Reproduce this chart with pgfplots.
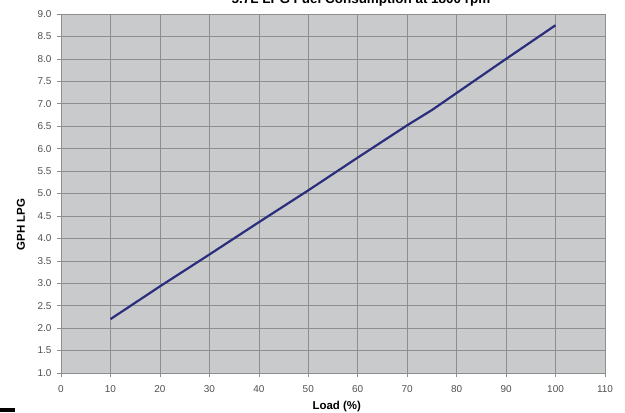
\documentclass[border=0pt]{standalone}
\usepackage{pgfplots}
\pgfplotsset{compat=1.18}
\usepackage{fontspec}
\setmainfont{Liberation Sans}
\definecolor{plotbg}{HTML}{C9CACC}
\definecolor{gridc}{HTML}{8E8E8E}
\definecolor{navy}{HTML}{2B2E7C}
\definecolor{ticklab}{HTML}{505050}
\begin{document}
\begin{tikzpicture}
\useasboundingbox (0bp,0bp) rectangle (625bp,413bp);
\begin{axis}[
  at={(61bp,40bp)}, anchor=south west,
  scale only axis, width=544bp, height=359bp,
  xmin=0, xmax=110, ymin=1, ymax=9,
  xtick={0,10,...,110},
  ytick={1,1.5,...,9},
  yticklabel style={/pgf/number format/fixed, /pgf/number format/fixed zerofill, /pgf/number format/precision=1},
  /pgf/number format/assume math mode=true,
  ticklabel style={font=\fontsize{10}{12}\selectfont, text=ticklab},
  xticklabel style={yshift=-5bp},
  yticklabel style={xshift=-2bp},
  tick align=outside, major tick length=4bp,
  tick style={gridc, line width=0.6bp},
  grid=major,
  major grid style={gridc, line width=0.6bp},
  axis background/.style={fill=plotbg},
  axis line style={draw=gridc, line width=0.7bp},
  xtick pos=bottom, ytick pos=left,
  xlabel={\bfseries Load (\%)},
  ylabel={\bfseries GPH LPG},
  label style={font=\fontsize{11.5}{13}\selectfont\bfseries},
  xlabel style={at={(axis description cs:0.507,0)}, anchor=center, yshift=-34bp},
  ylabel style={at={(axis description cs:0,0.413)}, anchor=center, yshift=40bp},
]
\addplot[navy, line width=2.2bp] coordinates {
(10,2.20) (20,2.93) (30,3.64) (40,4.36) (50,5.07) (60,5.80) (70,6.52) (75,6.86) (80,7.24) (90,8.00) (100,8.75)
};
\end{axis}
\node[anchor=base, font=\fontsize{13.5}{15}\selectfont\bfseries] at (361bp,409bp) {5.7L LPG Fuel Consumption at 1800 rpm};
\fill[black] (0bp,1bp) rectangle (15bp,5bp);
\end{tikzpicture}
\end{document}
